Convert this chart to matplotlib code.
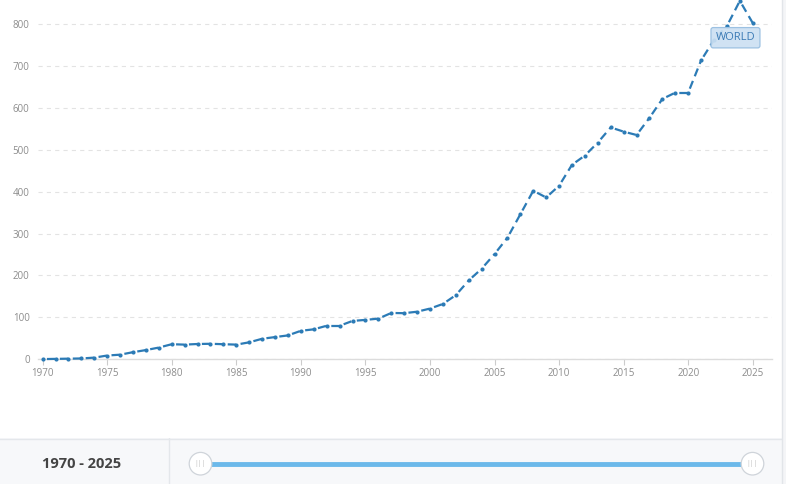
import numpy as np
import matplotlib
matplotlib.use("Agg")
import matplotlib.pyplot as plt
from matplotlib.patches import Circle, Rectangle
from matplotlib.collections import LineCollection

plt.rcParams['font.family'] = ['Open Sans', 'DejaVu Sans']
plt.rcParams['lines.scale_dashes'] = False

years = list(range(1970, 2026))
values = [0.5, 1, 1.5, 2, 4, 9, 11, 17, 22, 28,
          36, 35, 36.5, 37, 36, 35, 40.5, 49, 53, 57,
          68, 71.5, 80, 80, 91.5, 94, 97, 110.5, 110, 113.5,
          121, 132, 153, 188, 216, 251, 290, 346, 402, 386,
          414, 464, 486, 517, 553, 543, 535, 576, 621, 636,
          636, 713, 762, 795, 855, 802]
series_name = "WORLD"
xticks = list(range(1970, 2030, 5))
yticks = list(range(0, 900, 100))
range_label = "1970 - 2025"

W, H = 786, 484
fig = plt.figure(figsize=(W / 100, H / 100), dpi=100)
fig.patch.set_facecolor('white')

# main chart area
ax = fig.add_axes([38 / W, (H - 359.3) / H, (772 - 38) / W, 359.3 / H])
ax.set_xlim(1969.64, 2026.49)
ax.set_ylim(0, 857)

# each year-to-year segment gets its own dash, so a dot sits at every point
pts = np.column_stack([years, values])
segs = np.stack([pts[:-1], pts[1:]], axis=1)
pat = (6.5, (6.0, 3.6))   # points: start in the gap, then dash, then gap
lc = LineCollection(segs, colors='#2c7bb6', linewidths=1.6,
                    linestyles=[pat], capstyle='butt', clip_on=False,
                    zorder=3)
ax.add_collection(lc)
ax.plot(years, values, linestyle='none', marker='o', markersize=3.0,
        color='#2c7bb6', markeredgewidth=0, clip_on=False, zorder=4)

for s in ['top', 'right', 'left']:
    ax.spines[s].set_visible(False)
ax.spines['bottom'].set_color('#dcdcdc')
ax.spines['bottom'].set_linewidth(1)

ax.set_yticks(yticks)
ax.set_xticks(xticks)
ax.yaxis.grid(True, linestyle=(0, (3, 3)), color='#e3e3e3', linewidth=0.8)
ax.set_axisbelow(True)
ax.tick_params(axis='y', length=0, pad=6, labelsize=7, labelcolor='#8c8c8c')
ax.tick_params(axis='x', length=4, width=0.8, color='#cccccc', pad=2,
               labelsize=7, labelcolor='#8c8c8c')

ax.annotate(series_name, xy=(2023.66, 767), ha='center', va='center',
            fontsize=8, color='#3a7ab5', zorder=5,
            bbox=dict(boxstyle='round,pad=0.42,rounding_size=0.2',
                      fc=(0.80, 0.88, 0.95, 0.92), ec='#9cc1e2', lw=0.9))

# bottom range panel, drawn in pixel coordinates
pan = fig.add_axes([0, 0, 1, 46 / H])
pan.set_xlim(0, W)
pan.set_ylim(46, 0)
pan.axis('off')
pan.add_patch(Rectangle((0, 0), 782, 46, fc='#f7f8fa', ec='none'))
pan.plot([0, 782], [0.5, 0.5], color='#e4e7eb', lw=1)
pan.plot([168.5, 168.5], [0, 46], color='#e4e7eb', lw=1)
pan.text(82, 25.5, range_label, ha='center', va='center', fontsize=10.5,
         fontweight='bold', color='#444444')
pan.plot([201, 752], [25.7, 25.7], color='#6cb9ea', lw=3.5,
         solid_capstyle='butt')
for hx in [200.5, 752.5]:
    pan.add_patch(Circle((hx, 25.7), 11.3, fc='white', ec='#cfd4da', lw=0.9,
                         zorder=4))
    pan.text(hx, 25.9, '|||', ha='center', va='center', fontsize=5,
             color='#c0c0c0', zorder=5)

# right scrollbar strip
fig.add_artist(Rectangle((782 / W, 0), 4 / W, 1, transform=fig.transFigure,
                         fc='#f4f5f7', ec='none'))
fig.add_artist(plt.Line2D([781.5 / W, 781.5 / W], [0, 1],
                          transform=fig.transFigure, color='#e2e5e9', lw=1))

fig.savefig('out.png', dpi=100)
